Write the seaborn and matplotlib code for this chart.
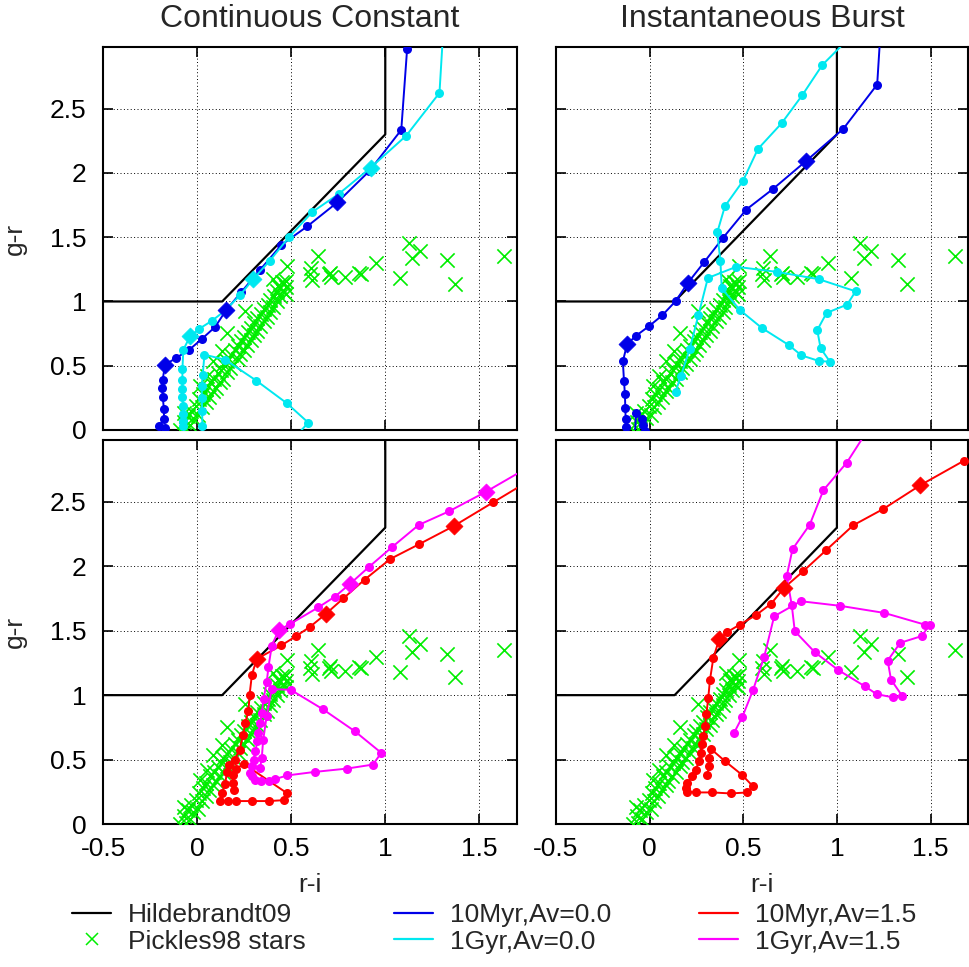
import matplotlib
matplotlib.use("Agg")
import matplotlib.pyplot as plt
from matplotlib.lines import Line2D
import seaborn as sns

sns.set_style("white")
plt.rcParams["font.family"] = ["Liberation Sans", "DejaVu Sans"]

# ---------------------------------------------------------------- data
panel_titles = ["Continuous Constant", "Instantaneous Burst"]
x_ticks = [-0.5, 0, 0.5, 1, 1.5]
x_tick_labels = ["-0.5", "0", "0.5", "1", "1.5"]
y_ticks = [0, 0.5, 1, 1.5, 2, 2.5]
y_tick_labels = ["0", "0.5", "1", "1.5", "2", "2.5"]

# Hildebrandt et al. (2009) colour cut
hild_ri = [-0.6, 0.1333, 1.0, 1.0]
hild_gr = [1.0, 1.0, 2.3, 3.5]

# Pickles (1998) stellar library
stars_ri = [-0.090, -0.070, -0.060, -0.050, -0.040, -0.030, -0.020, -0.005, 0.005, 0.010,
            0.025, 0.030, 0.045, 0.050, 0.065, 0.070, 0.085, 0.090, 0.100, 0.110,
            0.120, 0.125, 0.140, 0.140, 0.160, 0.160, 0.175, 0.180, 0.195, 0.200,
            0.215, 0.215, 0.230, 0.235, 0.250, 0.250, 0.265, 0.270, 0.285, 0.285,
            0.300, 0.305, 0.320, 0.320, 0.335, 0.340, 0.355, 0.355, 0.370, 0.375,
            0.390, 0.390, 0.405, 0.410, 0.425, 0.425, 0.440, 0.440, 0.455, 0.460,
            0.470, 0.475, 0.450, 0.430, 0.470,
            0.160, 0.256, 0.086, 0.130, 0.016, -0.072, 0.052,
            0.406, 0.477, 0.601, 0.605, 0.612, 0.642, 0.699, 0.712, 0.705, 0.787,
            0.860, 0.871, 0.952, 1.076, 1.124, 1.142, 1.183, 1.328, 1.372, 1.629]
stars_gr = [0.000, 0.060, 0.010, 0.110, 0.040, 0.150, 0.090, 0.190, 0.120, 0.240,
            0.180, 0.280, 0.220, 0.320, 0.260, 0.370, 0.300, 0.400, 0.330, 0.440,
            0.370, 0.470, 0.400, 0.510, 0.450, 0.540, 0.480, 0.580, 0.510, 0.620,
            0.550, 0.650, 0.590, 0.690, 0.620, 0.720, 0.660, 0.760, 0.700, 0.790,
            0.740, 0.830, 0.770, 0.870, 0.810, 0.900, 0.850, 0.940, 0.880, 0.970,
            0.920, 1.010, 0.960, 1.040, 1.000, 1.080, 1.040, 1.110, 1.080, 1.140,
            1.110, 1.160, 1.150, 1.120, 1.060,
            0.754, 0.929, 0.534, 0.612, 0.345, 0.130, 0.420,
            1.172, 1.276, 1.211, 1.263, 1.164, 1.354, 1.211, 1.190, 1.225, 1.190,
            1.220, 1.211, 1.297, 1.180, 1.458, 1.336, 1.393, 1.320, 1.138, 1.354]

# Continuous constant SFH, 10 Myr, Av = 0.0
cc_young_av00_ri = [-0.16, -0.170, -0.200, -0.176, -0.176, -0.183, -0.185, -0.183, -0.170, -0.112,
                    -0.041, 0.025, 0.096, 0.154, 0.235, 0.333, 0.448, 0.585, 0.746, 0.916,
                    1.085, 1.116, 1.14]
cc_young_av00_gr = [-0.8, 0.013, 0.031, 0.083, 0.161, 0.260, 0.327, 0.391, 0.508, 0.560,
                    0.625, 0.708, 0.802, 0.932, 1.073, 1.243, 1.440, 1.584, 1.772, 2.016,
                    2.335, 2.963, 3.4]
cc_young_av00_z_ri = [-0.170, 0.154, 0.746]
cc_young_av00_z_gr = [0.508, 0.932, 1.772]

# Continuous constant SFH, 1 Gyr, Av = 0.0
cc_old_av00_ri = [0.48, 0.591, 0.477, 0.314, 0.149, 0.039, 0.030, 0.025, 0.025, 0.027,
                  0.028, -0.02, -0.073, -0.073, -0.073, -0.075, -0.078, -0.078, -0.078, -0.078,
                  -0.073, -0.037, 0.009, 0.080, 0.149, 0.230, 0.297, 0.386, 0.488, 0.612,
                  0.754, 0.923, 1.112, 1.288, 1.32]
cc_old_av00_gr = [-0.12, 0.057, 0.208, 0.385, 0.547, 0.586, 0.430, 0.340, 0.250, 0.150,
                  0.030, -1.0, 0.030, 0.073, 0.125, 0.190, 0.254, 0.320, 0.390, 0.474,
                  0.625, 0.729, 0.785, 0.851, 0.929, 1.052, 1.173, 1.317, 1.500, 1.696,
                  1.838, 2.042, 2.291, 2.623, 3.4]
cc_old_av00_z_ri = [-0.037, 0.297, 0.923]
cc_old_av00_z_gr = [0.729, 1.173, 2.042]

# Instantaneous burst, 10 Myr, Av = 0.0
ib_young_av00_ri = [1.25, 1.215, 1.034, 0.836, 0.660, 0.516, 0.393, 0.290, 0.205, 0.139,
                    0.068, -0.004, -0.072, -0.120, -0.143, -0.137, -0.132, -0.130, -0.128, -0.128,
                    -0.11, -0.072, -0.043, -0.035, -0.025, 0.04]
ib_young_av00_gr = [3.5, 2.688, 2.343, 2.094, 1.877, 1.715, 1.497, 1.304, 1.146, 1.003,
                    0.893, 0.807, 0.734, 0.669, 0.534, 0.383, 0.279, 0.175, 0.086, 0.026,
                    -0.8, 0.135, 0.083, 0.040, -0.010, -0.3]
ib_young_av00_z_ri = [-0.120, 0.205, 0.836]
ib_young_av00_z_gr = [0.669, 1.146, 2.094]

# Instantaneous burst, 1 Gyr, Av = 0.0
ib_old_av00_ri = [0.139, 0.166, 0.214, 0.260, 0.311, 0.463, 0.681, 0.904, 1.100, 1.055,
                  0.945, 0.895, 0.913, 0.963, 0.904, 0.810, 0.744, 0.599, 0.483, 0.385,
                  0.378, 0.361, 0.402, 0.498, 0.578, 0.705, 0.815, 0.922, 1.10]
ib_old_av00_gr = [0.299, 0.417, 0.630, 0.891, 1.183, 1.270, 1.230, 1.173, 1.079, 0.976,
                  0.911, 0.777, 0.636, 0.531, 0.537, 0.581, 0.660, 0.794, 0.932, 1.102,
                  1.312, 1.537, 1.741, 1.937, 2.186, 2.387, 2.605, 2.840, 3.10]
ib_old_av00_z_ri = []
ib_old_av00_z_gr = []

# Continuous constant SFH, 10 Myr, Av = 1.5
cc_young_av15_ri = [0.195, 0.190, 0.190, 0.205, 0.250, 0.479, 0.461, 0.381, 0.292, 0.208,
                    0.164, 0.123, 0.133, 0.148, 0.160, 0.170, 0.200, 0.226, 0.244, 0.256,
                    0.273, 0.279, 0.291, 0.317, 0.448, 0.525, 0.600, 0.683, 0.778, 0.890,
                    1.027, 1.178, 1.365, 1.573, 1.76]
cc_young_av15_gr = [0.260, 0.320, 0.380, 0.430, 0.465, 0.238, 0.185, 0.178, 0.178, 0.178,
                    0.178, 0.178, 0.238, 0.308, 0.407, 0.460, 0.500, 0.577, 0.687, 0.786,
                    0.877, 1.003, 1.156, 1.281, 1.386, 1.457, 1.530, 1.629, 1.752, 1.896,
                    2.057, 2.170, 2.313, 2.496, 2.66]
cc_young_av15_z_ri = [0.317, 0.683, 1.365]
cc_young_av15_z_gr = [1.281, 1.629, 2.313]

# Continuous constant SFH, 1 Gyr, Av = 1.5
cc_old_av15_ri = [0.335, 0.344, 0.351, 0.370, 0.397, 0.498, 0.668, 0.837, 0.979, 0.934,
                  0.796, 0.624, 0.480, 0.415, 0.380, 0.340, 0.310, 0.290, 0.282, 0.291,
                  0.300, 0.309, 0.321, 0.326, 0.335, 0.344, 0.353, 0.370, 0.379, 0.397,
                  0.434, 0.493, 0.644, 0.733, 0.813, 0.911, 1.036, 1.178, 1.338, 1.537, 1.75]
cc_old_av15_gr = [0.438, 0.516, 0.651, 0.840, 1.047, 1.041, 0.891, 0.721, 0.552, 0.461,
                  0.430, 0.404, 0.377, 0.349, 0.330, 0.335, 0.345, 0.370, 0.396, 0.450,
                  0.500, 0.565, 0.643, 0.708, 0.786, 0.865, 0.969, 1.100, 1.216, 1.385,
                  1.504, 1.551, 1.681, 1.765, 1.864, 1.992, 2.149, 2.321, 2.426, 2.580, 2.76]
cc_old_av15_z_ri = [0.434, 0.813, 1.537]
cc_old_av15_z_gr = [1.504, 1.864, 2.580]

# Instantaneous burst, 10 Myr, Av = 1.5
ib_young_av15_ri = [0.308, 0.317, 0.317, 0.326, 0.403, 0.492, 0.552, 0.522, 0.433, 0.335,
                    0.246, 0.201, 0.193, 0.201, 0.228, 0.246, 0.264, 0.273, 0.278, 0.287,
                    0.296, 0.303, 0.313, 0.322, 0.340, 0.371, 0.415, 0.481, 0.567, 0.650,
                    0.718, 0.821, 0.941, 1.087, 1.248, 1.444, 1.677, 1.85]
ib_young_av15_gr = [0.383, 0.448, 0.513, 0.584, 0.487, 0.383, 0.292, 0.245, 0.237, 0.245,
                    0.245, 0.252, 0.279, 0.318, 0.370, 0.422, 0.487, 0.552, 0.617, 0.682,
                    0.760, 0.852, 0.977, 1.117, 1.287, 1.432, 1.490, 1.547, 1.620, 1.711,
                    1.833, 1.963, 2.123, 2.318, 2.445, 2.628, 2.818, 2.95]
ib_young_av15_z_ri = [0.371, 0.718, 1.444]
ib_young_av15_z_gr = [1.432, 1.833, 2.628]

# Instantaneous burst, 1 Gyr, Av = 1.5
ib_old_av15_ri = [0.451, 0.495, 0.552, 0.611, 0.665, 0.807, 1.018, 1.253, 1.470, 1.497,
                  1.452, 1.338, 1.271, 1.289, 1.348, 1.301, 1.212, 1.150, 1.007, 0.882,
                  0.775, 0.759, 0.732, 0.763, 0.855, 0.928, 1.053, 1.17]
ib_old_av15_gr = [0.708, 0.831, 1.039, 1.294, 1.612, 1.729, 1.693, 1.638, 1.547, 1.547,
                  1.458, 1.406, 1.268, 1.120, 0.995, 0.982, 1.008, 1.068, 1.195, 1.333,
                  1.497, 1.698, 1.924, 2.133, 2.323, 2.591, 2.805, 3.07]
ib_old_av15_z_ri = []
ib_old_av15_z_gr = []

# ---------------------------------------------------------------- style
BLUE, CYAN, RED, MAGENTA = "#0000e8", "#00e8f0", "#ff0000", "#ff00ff"
GREEN = "#00ee00"
FS = 19

panels = {
    (0, 0): [(cc_young_av00_ri, cc_young_av00_gr, cc_young_av00_z_ri, cc_young_av00_z_gr, BLUE),
             (cc_old_av00_ri, cc_old_av00_gr, cc_old_av00_z_ri, cc_old_av00_z_gr, CYAN)],
    (0, 1): [(ib_young_av00_ri, ib_young_av00_gr, ib_young_av00_z_ri, ib_young_av00_z_gr, BLUE),
             (ib_old_av00_ri, ib_old_av00_gr, ib_old_av00_z_ri, ib_old_av00_z_gr, CYAN)],
    (1, 0): [(cc_young_av15_ri, cc_young_av15_gr, cc_young_av15_z_ri, cc_young_av15_z_gr, RED),
             (cc_old_av15_ri, cc_old_av15_gr, cc_old_av15_z_ri, cc_old_av15_z_gr, MAGENTA)],
    (1, 1): [(ib_young_av15_ri, ib_young_av15_gr, ib_young_av15_z_ri, ib_young_av15_z_gr, RED),
             (ib_old_av15_ri, ib_old_av15_gr, ib_old_av15_z_ri, ib_old_av15_z_gr, MAGENTA)],
}

W, H = 970, 967
fig = plt.figure(figsize=(W / 100, H / 100), dpi=100)

col_left = [(103, 414), (556, 412)]
row_top = [(47, 430), (440, 824)]

for (r, c), tracks in panels.items():
    x0, w = col_left[c]
    top, bottom = row_top[r]
    ax = fig.add_axes([x0 / W, 1 - bottom / H, w / W, (bottom - top) / H])

    sns.lineplot(x=hild_ri, y=hild_gr, sort=False, estimator=None, color="black",
                 linewidth=1.6, ax=ax, zorder=2)
    sns.scatterplot(x=stars_ri, y=stars_gr, marker="x", s=105, color=GREEN,
                    linewidth=1.2, ax=ax, zorder=3)
    for ri, gr, zri, zgr, col in tracks:
        sns.lineplot(x=ri, y=gr, sort=False, estimator=None, color=col, linewidth=1.4,
                     marker="o", markersize=6.5, markeredgewidth=0, ax=ax, zorder=4)
        if zri:
            sns.scatterplot(x=zri, y=zgr, marker="D", s=75, color=col, edgecolor=col,
                            linewidth=0.5, ax=ax, zorder=5)

    ax.set_xlim(-0.5, 1.7)
    ax.set_ylim(0, 2.98)
    ax.set_xticks(x_ticks)
    ax.set_yticks(y_ticks)
    ax.set_xticklabels(x_tick_labels)
    ax.set_yticklabels(y_tick_labels)
    ax.set_xlabel("")
    ax.set_ylabel("")
    ax.grid(True, color="black", linestyle=(0, (1, 2.5)), linewidth=0.7)
    ax.set_axisbelow(True)
    ax.tick_params(direction="in", length=7, width=1.2, top=True, right=True,
                   bottom=True, left=True, labelsize=FS, colors="black")
    ax.tick_params(axis="x", pad=9)
    ax.tick_params(axis="y", pad=12)
    ax.tick_params(labelbottom=(r == 1), labelleft=(c == 0))
    for sp in ax.spines.values():
        sp.set_visible(True)
        sp.set_color("black")
        sp.set_linewidth(1.5)

# column titles and axis labels
for c, title in enumerate(panel_titles):
    x0, w = col_left[c]
    fig.text((x0 + w / 2) / W, 1 - 19 / H, title, ha="center", va="center", fontsize=23)
    fig.text((x0 + w / 2) / W, 1 - 885 / H, "r-i", ha="center", va="center", fontsize=FS)
for r in range(2):
    top, bottom = row_top[r]
    fig.text(15 / W, 1 - (top + bottom) / 2 / H, "g-r", ha="center", va="center",
             rotation=90, fontsize=FS)

handles = [
    Line2D([], [], color="black", linewidth=1.6),
    Line2D([], [], color=GREEN, marker="x", linestyle="none", markersize=9, markeredgewidth=1.1),
    Line2D([], [], color=BLUE, linewidth=1.6),
    Line2D([], [], color=CYAN, linewidth=1.6),
    Line2D([], [], color=RED, linewidth=1.6),
    Line2D([], [], color=MAGENTA, linewidth=1.6),
]
labels = ["Hildebrandt09", "Pickles98 stars", "10Myr,Av=0.0", "1Gyr,Av=0.0",
          "10Myr,Av=1.5", "1Gyr,Av=1.5"]
fig.legend(handles, labels, ncol=3, loc="upper left", bbox_to_anchor=(72 / W, 1 - 903 / H),
           frameon=False, borderpad=0, borderaxespad=0, handlelength=1.48,
           handletextpad=0.63, columnspacing=3.35, labelspacing=0.1, fontsize=FS)

fig.savefig("out.png", dpi=100)
